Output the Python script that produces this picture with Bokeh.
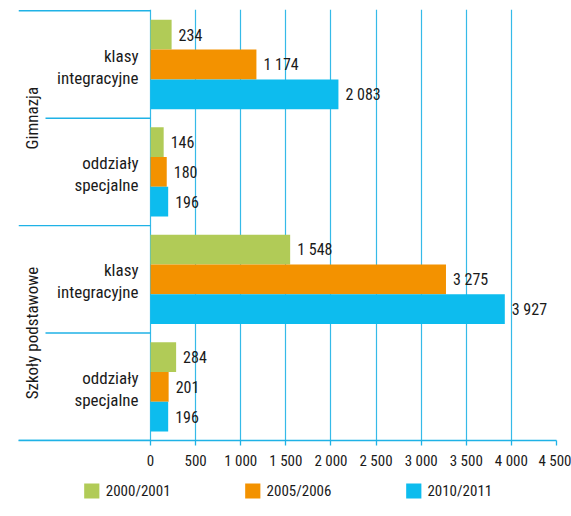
from bokeh.plotting import figure
from bokeh.models import Range1d, FixedTicker, ColumnDataSource, Legend, LegendItem
from bokeh.layouts import column
from bokeh.core.properties import value
from bokeh.embed import file_html
from bokeh.resources import INLINE
import math

# ---- data ----
groups = ["Gimnazja", "Szkoły podstawowe"]
sub_labels = ["klasy\nintegracyjne", "oddziały\nspecjalne", "klasy\nintegracyjne", "oddziały\nspecjalne"]
series = ["2000/2001", "2005/2006", "2010/2011"]
values_2000 = [234, 146, 1548, 284]
values_2005 = [1174, 180, 3275, 201]
values_2010 = [2083, 196, 3927, 196]
ticks = [0, 500, 1000, 1500, 2000, 2500, 3000, 3500, 4000, 4500]

# ---- style ----
FONT = "Roboto Condensed"
COLORS = ["#b1cb57", "#f39200", "#0dbcee"]
LINE = "#1fb2e6"
TXT = "#1a1a1a"

W = 571
BL, BR = 18, 15
X_MAX = 4500
FRAME_W = W - BL - BR
ZERO_PX = 132          # px from frame left to zero
INNER_PX = 105         # px from inner separator start to zero
X_START = -ZERO_PX / (FRAME_W - ZERO_PX) * X_MAX
X_INNER = -INNER_PX / (FRAME_W - ZERO_PX) * X_MAX
BAR_H = 0.277

def fmt(v):
    return f"{v:,}".replace(",", " ")

p = figure(width=W, height=472, x_range=Range1d(X_START, X_MAX),
           y_range=Range1d(4, -0.012), output_backend="svg", toolbar_location=None,
           y_axis_location=None, min_border_left=BL, min_border_right=BR,
           min_border_top=9, min_border_bottom=30)
p.outline_line_color = None
p.ygrid.visible = False
p.background_fill_color = "white"

p.xaxis.ticker = FixedTicker(ticks=ticks)
p.xaxis.major_label_overrides = {t: fmt(t) for t in ticks}
p.xaxis.axis_line_color = LINE
p.xaxis.axis_line_width = 1.3
p.xaxis.major_tick_line_color = LINE
p.xaxis.major_tick_line_width = 1.3
p.xaxis.major_tick_out = 5
p.xaxis.major_tick_in = 0
p.xaxis.minor_tick_line_color = None
p.xaxis.major_label_standoff = 6
p.xaxis.major_label_text_font = FONT
p.xaxis.major_label_text_font_size = "15px"
p.xaxis.major_label_text_color = TXT

p.xgrid.grid_line_color = LINE
p.xgrid.grid_line_width = 1.2
p.xgrid.grid_line_alpha = 0.9

n = len(sub_labels)
cats = list(range(n))

# separators on the left
sep_y = list(range(n + 1))
sep_x0 = [X_START if (y % 2 == 0) else X_INNER for y in sep_y]
p.segment(x0=sep_x0, y0=sep_y, x1=[0] * len(sep_y), y1=sep_y,
          line_color=LINE, line_width=1.4)

# bars
all_vals = [values_2000, values_2005, values_2010]
for j, (vals, col) in enumerate(zip(all_vals, COLORS)):
    ys = [c + 0.5 + (j - 1) * BAR_H for c in cats]
    src = ColumnDataSource(dict(y=ys, v=vals, lab=[fmt(v) for v in vals]))
    p.hbar(y="y", right="v", left=0, height=BAR_H, source=src,
           fill_color=col, line_color=None)
    p.text(x="v", y="y", text="lab", source=src, x_offset=7,
           text_align="left", text_baseline="middle",
           text_font=value(FONT), text_font_size="16px", text_color=TXT)

# category labels
p.text(x=[0] * n, y=[c + 0.5 for c in cats], text=sub_labels, x_offset=-12, y_offset=2,
       text_align="right", text_baseline="middle", text_line_height=1.1,
       text_font=value(FONT), text_font_size="17px", text_color=TXT)

# group labels
p.text(x=[X_START] * len(groups), y=[1 + 2 * g for g in range(len(groups))], text=groups,
       x_offset=13, angle=math.pi / 2, text_align="center", text_baseline="middle",
       text_font=value(FONT), text_font_size="17px", text_color=TXT)

# ---- legend figure ----
p2 = figure(width=W, height=28, output_backend="svg", toolbar_location=None,
            x_range=Range1d(0, 1), y_range=Range1d(0, 1),
            x_axis_location=None, y_axis_location=None, min_border=0)
p2.min_border_left = 17
p2.min_border_right = 8
p2.outline_line_color = None
p2.xgrid.visible = False
p2.ygrid.visible = False
items = []
for name, col in zip(series, COLORS):
    r = p2.hbar(y=[0.5], left=[0], right=[0], height=0, fill_color=col, line_color=None)
    items.append(LegendItem(label=name, renderers=[r], index=0))
leg = Legend(items=items, orientation="horizontal", location="bottom_center",
             spacing=72, glyph_width=19, glyph_height=19, label_standoff=5,
             padding=0, margin=0, border_line_color=None, background_fill_alpha=0,
             label_text_font=FONT, label_text_font_size="15px", label_text_color=TXT)
p2.add_layout(leg)

layout = column(p, p2, spacing=0)
open("out.html", "w").write(file_html(layout, INLINE))
